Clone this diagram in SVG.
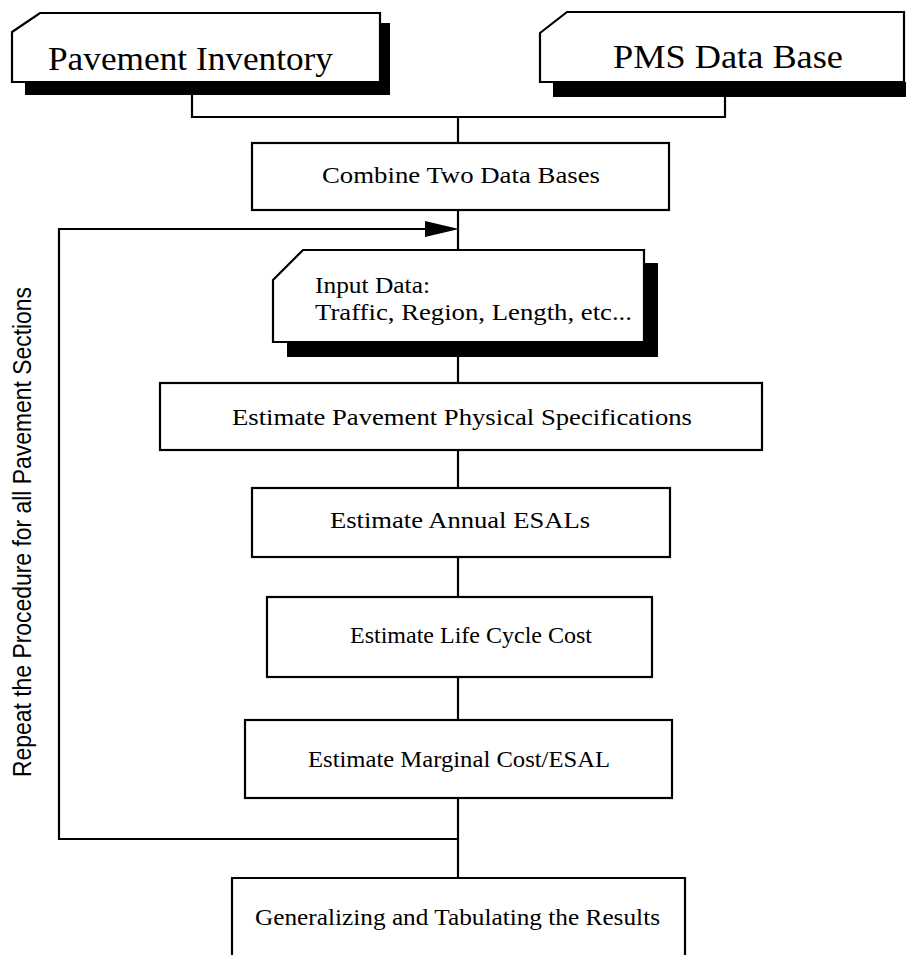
<svg xmlns="http://www.w3.org/2000/svg" width="906" height="955" viewBox="0 0 906 955">
<style>
.box{fill:#fff;stroke:#000;stroke-width:2.2}
.sh{fill:#000}
.ln{fill:none;stroke:#000;stroke-width:2.2}
.t{font-family:"Liberation Serif","Times New Roman",serif;fill:#000}
.big{font-size:34px}
.mid{font-size:24px}
.side{font-family:"Liberation Sans Narrow","Liberation Sans",Arial,sans-serif;font-size:25px;fill:#000}
</style>
<rect width="906" height="955" fill="#fff"/>
<g id="connectors">
<path class="ln" d="M192,95 V117 H725 V97"/>
<path class="ln" d="M458,117 V143"/>
<path class="ln" d="M458,210 V250"/>
<path class="ln" d="M458,839 H59 V229 H428"/>
<polygon points="425,221 459,229 425,237" fill="#000"/>
<path class="ln" d="M458,357 V383"/>
<path class="ln" d="M458,450 V488"/>
<path class="ln" d="M458,557 V597"/>
<path class="ln" d="M458,677 V720"/>
<path class="ln" d="M458,798 V878"/>
</g>
<g id="pavement-inventory">
<polygon class="sh" points="380,23 390,23 390,95 25,95 25,82 380,82"/>
<polygon class="box" points="12,32 40,13 380,13 380,82 12,82"/>
<text class="t big" x="48" y="70" textLength="285" lengthAdjust="spacingAndGlyphs">Pavement Inventory</text>
</g>
<g id="pms-data-base">
<polygon class="sh" points="553,82 916,82 916,97 553,97"/>
<polygon class="box" points="540,33 567,12 904,12 904,82 540,82"/>
<text class="t big" x="613" y="68" textLength="230" lengthAdjust="spacingAndGlyphs">PMS Data Base</text>
</g>
<g id="combine">
<rect class="box" x="252" y="143" width="417" height="67"/>
<text class="t mid" x="322" y="183" textLength="278" lengthAdjust="spacingAndGlyphs">Combine Two Data Bases</text>
</g>
<g id="input-data">
<polygon class="sh" points="644,263 658,263 658,357 287,357 287,342 644,342"/>
<polygon class="box" points="273,280 303,250 644,250 644,342 273,342"/>
<text class="t mid" x="315" y="293" textLength="115" lengthAdjust="spacingAndGlyphs">Input Data:</text>
<text class="t mid" x="315" y="320" textLength="317" lengthAdjust="spacingAndGlyphs">Traffic, Region, Length, etc...</text>
</g>
<g id="physical-specs">
<rect class="box" x="160" y="383" width="602" height="67"/>
<text class="t mid" x="232" y="425" textLength="460" lengthAdjust="spacingAndGlyphs">Estimate Pavement Physical Specifications</text>
</g>
<g id="annual-esals">
<rect class="box" x="252" y="488" width="418" height="69"/>
<text class="t mid" x="330" y="528" textLength="260" lengthAdjust="spacingAndGlyphs">Estimate Annual ESALs</text>
</g>
<g id="life-cycle-cost">
<rect class="box" x="267" y="597" width="385" height="80"/>
<text class="t mid" x="350" y="643" textLength="242" lengthAdjust="spacingAndGlyphs">Estimate Life Cycle Cost</text>
</g>
<g id="marginal-cost">
<rect class="box" x="245" y="720" width="427" height="78"/>
<text class="t mid" x="308" y="767" textLength="302" lengthAdjust="spacingAndGlyphs">Estimate Marginal Cost/ESAL</text>
</g>
<g id="generalizing">
<path class="box" d="M232,958 V878 H685 V958"/>
<text class="t mid" x="255" y="925" textLength="405" lengthAdjust="spacingAndGlyphs">Generalizing and Tabulating the Results</text>
</g>
<g id="repeat-label">
<text class="side" transform="translate(31,532) rotate(-90)" text-anchor="middle" textLength="490" lengthAdjust="spacingAndGlyphs">Repeat the Procedure for all Pavement Sections</text>
</g>
</svg>
